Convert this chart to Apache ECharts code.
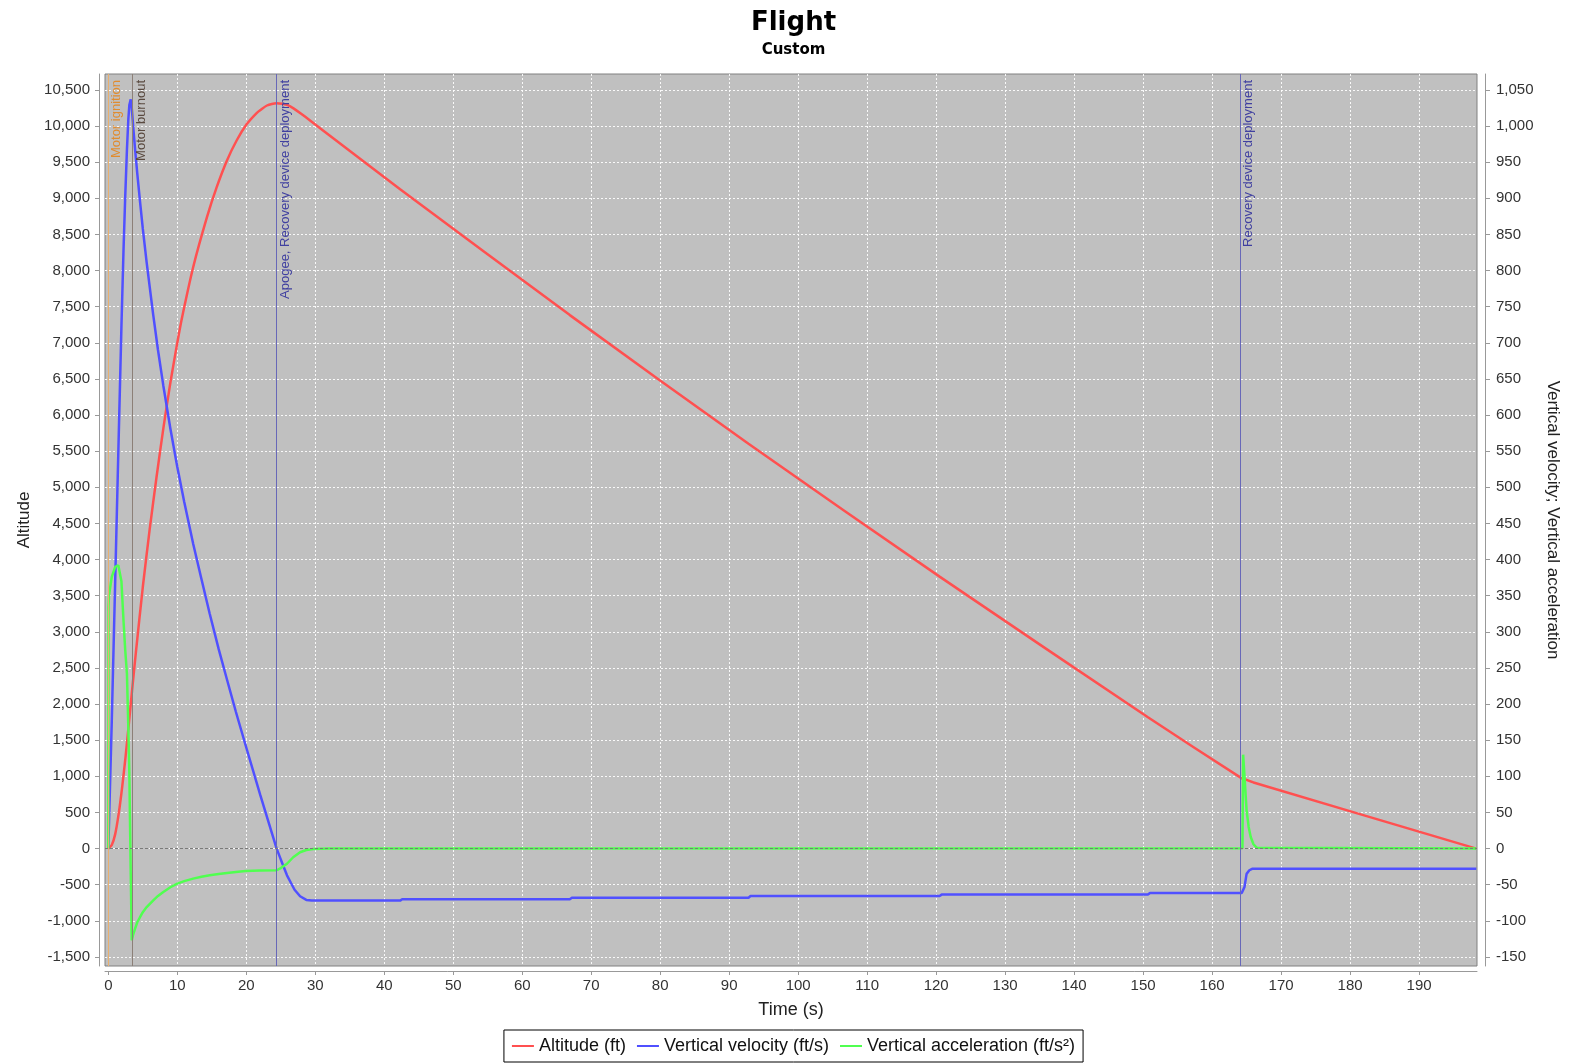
<!DOCTYPE html>
<html>
<head>
<meta charset="utf-8">
<title>Flight</title>
<script src="https://cdn.jsdelivr.net/npm/echarts@6/dist/echarts.min.js"></script>
<style>
  html, body { margin: 0; padding: 0; background: #fff; }
  #chart { width: 1587px; height: 1064px; }
</style>
</head>
<body>
<div id="chart"></div>
<script>
  // tick labels
  const timeTicks = [0, 10, 20, 30, 40, 50, 60, 70, 80, 90, 100, 110, 120, 130, 140, 150, 160, 170, 180, 190]
  const altitudeTicks = [-1500, -1000, -500, 0, 500, 1000, 1500, 2000, 2500, 3000, 3500, 4000, 4500, 5000,
    5500, 6000, 6500, 7000, 7500, 8000, 8500, 9000, 9500, 10000, 10500]
  const rateTicks = [-150, -100, -50, 0, 50, 100, 150, 200, 250, 300, 350, 400, 450, 500, 550, 600,
    650, 700, 750, 800, 850, 900, 950, 1000, 1050]

  // Altitude (ft)
  const altTime = [0, 0.5, 1, 1.5, 2, 2.5, 3, 3.5, 4, 5, 6, 7, 8, 9, 10, 10.6, 12.3, 14.3, 15.7, 17.2,
    18.6, 20.1, 21.5, 22.3, 23, 23.7, 24.4, 25.2, 26, 26.9, 27.8, 29.2, 30.7, 42.3, 66.9, 92.8, 120.5,
    150.7, 164.2, 165, 166, 198.3]
  const altValues = [0, 50, 200, 480, 845, 1270, 1750, 2240, 2720, 3620, 4420, 5150, 5830, 6450, 7000, 7310,
    8046, 8738, 9150, 9523, 9800, 10030, 10180, 10240, 10284, 10306, 10315, 10307, 10288, 10240, 10180,
    10080, 9970, 9125, 7383, 5602, 3764, 1818, 979, 950, 915, 0]

  // Vertical velocity (ft/s)
  const velTime = [0, 0.5, 1, 1.45, 1.9, 2.2, 2.45, 2.7, 2.9, 3.05, 3.25, 3.4, 3.6, 3.87, 4.2, 4.59, 5,
    5.56, 6.52, 7.2, 7.97, 9, 10, 11, 12.3, 13.5, 14.7, 16, 17.2, 18.5, 19.9, 22, 24.4,
    25, 25.9, 26.5, 27, 27.8, 28.7, 29.5, 42.3, 42.6, 66.9, 67.2, 92.8, 93.1, 120.5, 120.8, 150.7, 151,
    164.3, 164.7, 165, 165.4, 165.8, 198.3]
  const velValues = [0, 176, 371, 548, 722, 827, 902, 967, 1009, 1029, 1037, 1025, 1000, 969, 934, 896, 858,
    811, 738, 690, 641, 581, 528, 480, 422, 373, 325, 276, 234, 189, 143, 75, 0,
    -15, -37, -48, -57, -66, -71, -72, -72, -70, -70, -68, -68, -65.6, -65.6, -63.7, -63.7, -61.5,
    -61.5, -53, -35, -30, -28, -28]

  // Vertical acceleration (ft/s²)
  const accTime = [0, 0.03, 0.1, 0.5, 1, 1.45, 1.9, 2.2, 2.45, 2.7, 2.9, 3.05, 3.25, 3.4, 3.6, 3.87, 4.2,
    4.59, 5, 5.56, 6.52, 7.2, 7.97, 9, 10, 11, 12.3, 13.5, 14.7, 16, 17.2, 18.5, 19.9, 22, 24.4,
    25, 25.9, 26.8, 27.8, 28.7, 29.7, 32, 164.4, 164.5, 164.7, 165, 165.3, 165.6, 166, 166.5, 198.3]
  const accValues = [0, 335, 350, 376, 390, 392, 370, 316, 275, 242, 168, 104, -35, -127, -119, -111, -102,
    -95, -88, -81, -71.6, -65.5, -60, -53.5, -48.5, -45, -41.6, -39, -37, -35.2, -33.8, -32.3, -31, -30.4, -30,
    -27, -21, -12, -5, -2, -0.5, 0, 0.5, 130, 100, 53, 30, 16, 6, 1, 0]

  // flight events
  const eventTimes = [0, 3.5, 24.4, 164.1]
  const eventNames = ['Motor ignition', 'Motor burnout', 'Apogee, Recovery device deployment', 'Recovery device deployment']
  const eventLineColors = ['#e8b070', '#8c8078', '#6868b8', '#6868b8']
  const eventTextColors = ['#e08c30', '#5a4a40', '#4040a0', '#4040a0']

  const font = 'Liberation Sans'
  const pair = (xs, ys) => xs.map((x, i) => [x, ys[i]])
  const fmt = v => Math.round(v).toLocaleString('en-US')

  const gridLine = { show: true, lineStyle: { color: '#ffffff', type: [2, 2], width: 1, opacity: 0.9 } }

  const eventLines = eventTimes.map((t, i) => ({
    xAxis: t,
    lineStyle: { color: eventLineColors[i], width: 1, type: 'solid' },
    label: {
      show: true,
      formatter: eventNames[i],
      position: 'insideEndBottom',
      distance: [6, 2],
      color: eventTextColors[i],
      fontFamily: font,
      fontSize: 13
    }
  }))
  eventLines.push({
    yAxis: 0,
    lineStyle: { color: '#7a7a7a', width: 1, type: [3, 2] },
    label: { show: false }
  })

  const chart = echarts.init(document.getElementById('chart'))
  chart.setOption({
    animation: false,
    backgroundColor: '#ffffff',
    textStyle: { fontFamily: font },
    title: {
      text: 'Flight',
      subtext: 'Custom',
      left: 'center',
      top: 5,
      itemGap: 7,
      textStyle: { fontFamily: 'DejaVu Sans', fontWeight: 'bold', fontSize: 26, color: '#000' },
      subtextStyle: { fontFamily: 'DejaVu Sans', fontWeight: 'bold', fontSize: 15, color: '#000' }
    },
    legend: {
      bottom: 2,
      left: 'center',
      icon: 'rect',
      itemWidth: 22,
      itemHeight: 2,
      itemGap: 11,
      padding: [7, 8, 7, 8],
      borderColor: '#000',
      borderWidth: 1,
      textStyle: { fontFamily: font, fontSize: 18, color: '#111' }
    },
    grid: {
      left: 105,
      right: 110,
      top: 74,
      bottom: 98,
      show: true,
      backgroundColor: '#c0c0c0',
      borderColor: '#808080',
      borderWidth: 1
    },
    xAxis: {
      type: 'value',
      min: -0.48,
      max: 198.4,
      offset: 5,
      name: 'Time (s)',
      nameLocation: 'middle',
      nameGap: 30,
      nameTextStyle: { fontFamily: font, fontSize: 18, color: '#222' },
      axisLine: { show: true, onZero: false, lineStyle: { color: '#999', width: 1 } },
      axisTick: { show: true, length: 4, customValues: timeTicks, lineStyle: { color: '#999' } },
      axisLabel: { customValues: timeTicks, margin: 7, fontSize: 15, color: '#333', formatter: fmt },
      splitLine: gridLine
    },
    yAxis: [
      {
        type: 'value',
        position: 'left',
        min: -1625,
        max: 10720,
        offset: 6,
        name: 'Altitude',
        nameLocation: 'middle',
        nameGap: 66,
        nameRotate: 90,
        nameTextStyle: { fontFamily: font, fontSize: 17, color: '#222' },
        axisLine: { show: true, onZero: false, lineStyle: { color: '#999', width: 1 } },
        axisTick: { show: true, length: 4, customValues: altitudeTicks, lineStyle: { color: '#999' } },
        axisLabel: { customValues: altitudeTicks, margin: 9, fontSize: 15, color: '#333', formatter: fmt },
        splitLine: gridLine
      },
      {
        type: 'value',
        position: 'right',
        min: -162.5,
        max: 1072,
        offset: 8,
        name: 'Vertical velocity; Vertical acceleration',
        nameLocation: 'middle',
        nameGap: 58,
        nameRotate: -90,
        nameTextStyle: { fontFamily: font, fontSize: 17, color: '#222' },
        axisLine: { show: true, onZero: false, lineStyle: { color: '#999', width: 1 } },
        axisTick: { show: true, length: 5, customValues: rateTicks, lineStyle: { color: '#999' } },
        axisLabel: { customValues: rateTicks, margin: 11, fontSize: 15, color: '#333', formatter: fmt },
        splitLine: { show: false }
      }
    ],
    series: [
      {
        name: 'Altitude (ft)',
        type: 'line',
        yAxisIndex: 0,
        showSymbol: false,
        smooth: 0.2,
        color: '#ff5050',
        lineStyle: { width: 2.5 },
        data: pair(altTime, altValues),
        markLine: {
          silent: true,
          symbol: ['none', 'none'],
          animation: false,
          data: eventLines
        }
      },
      {
        name: 'Vertical velocity (ft/s)',
        type: 'line',
        yAxisIndex: 1,
        showSymbol: false,
        color: '#5050ff',
        lineStyle: { width: 2.5 },
        data: pair(velTime, velValues)
      },
      {
        name: 'Vertical acceleration (ft/s²)',
        type: 'line',
        yAxisIndex: 1,
        showSymbol: false,
        color: '#50ff50',
        lineStyle: { width: 2.5 },
        data: pair(accTime, accValues)
      }
    ]
  })
</script>
</body>
</html>
